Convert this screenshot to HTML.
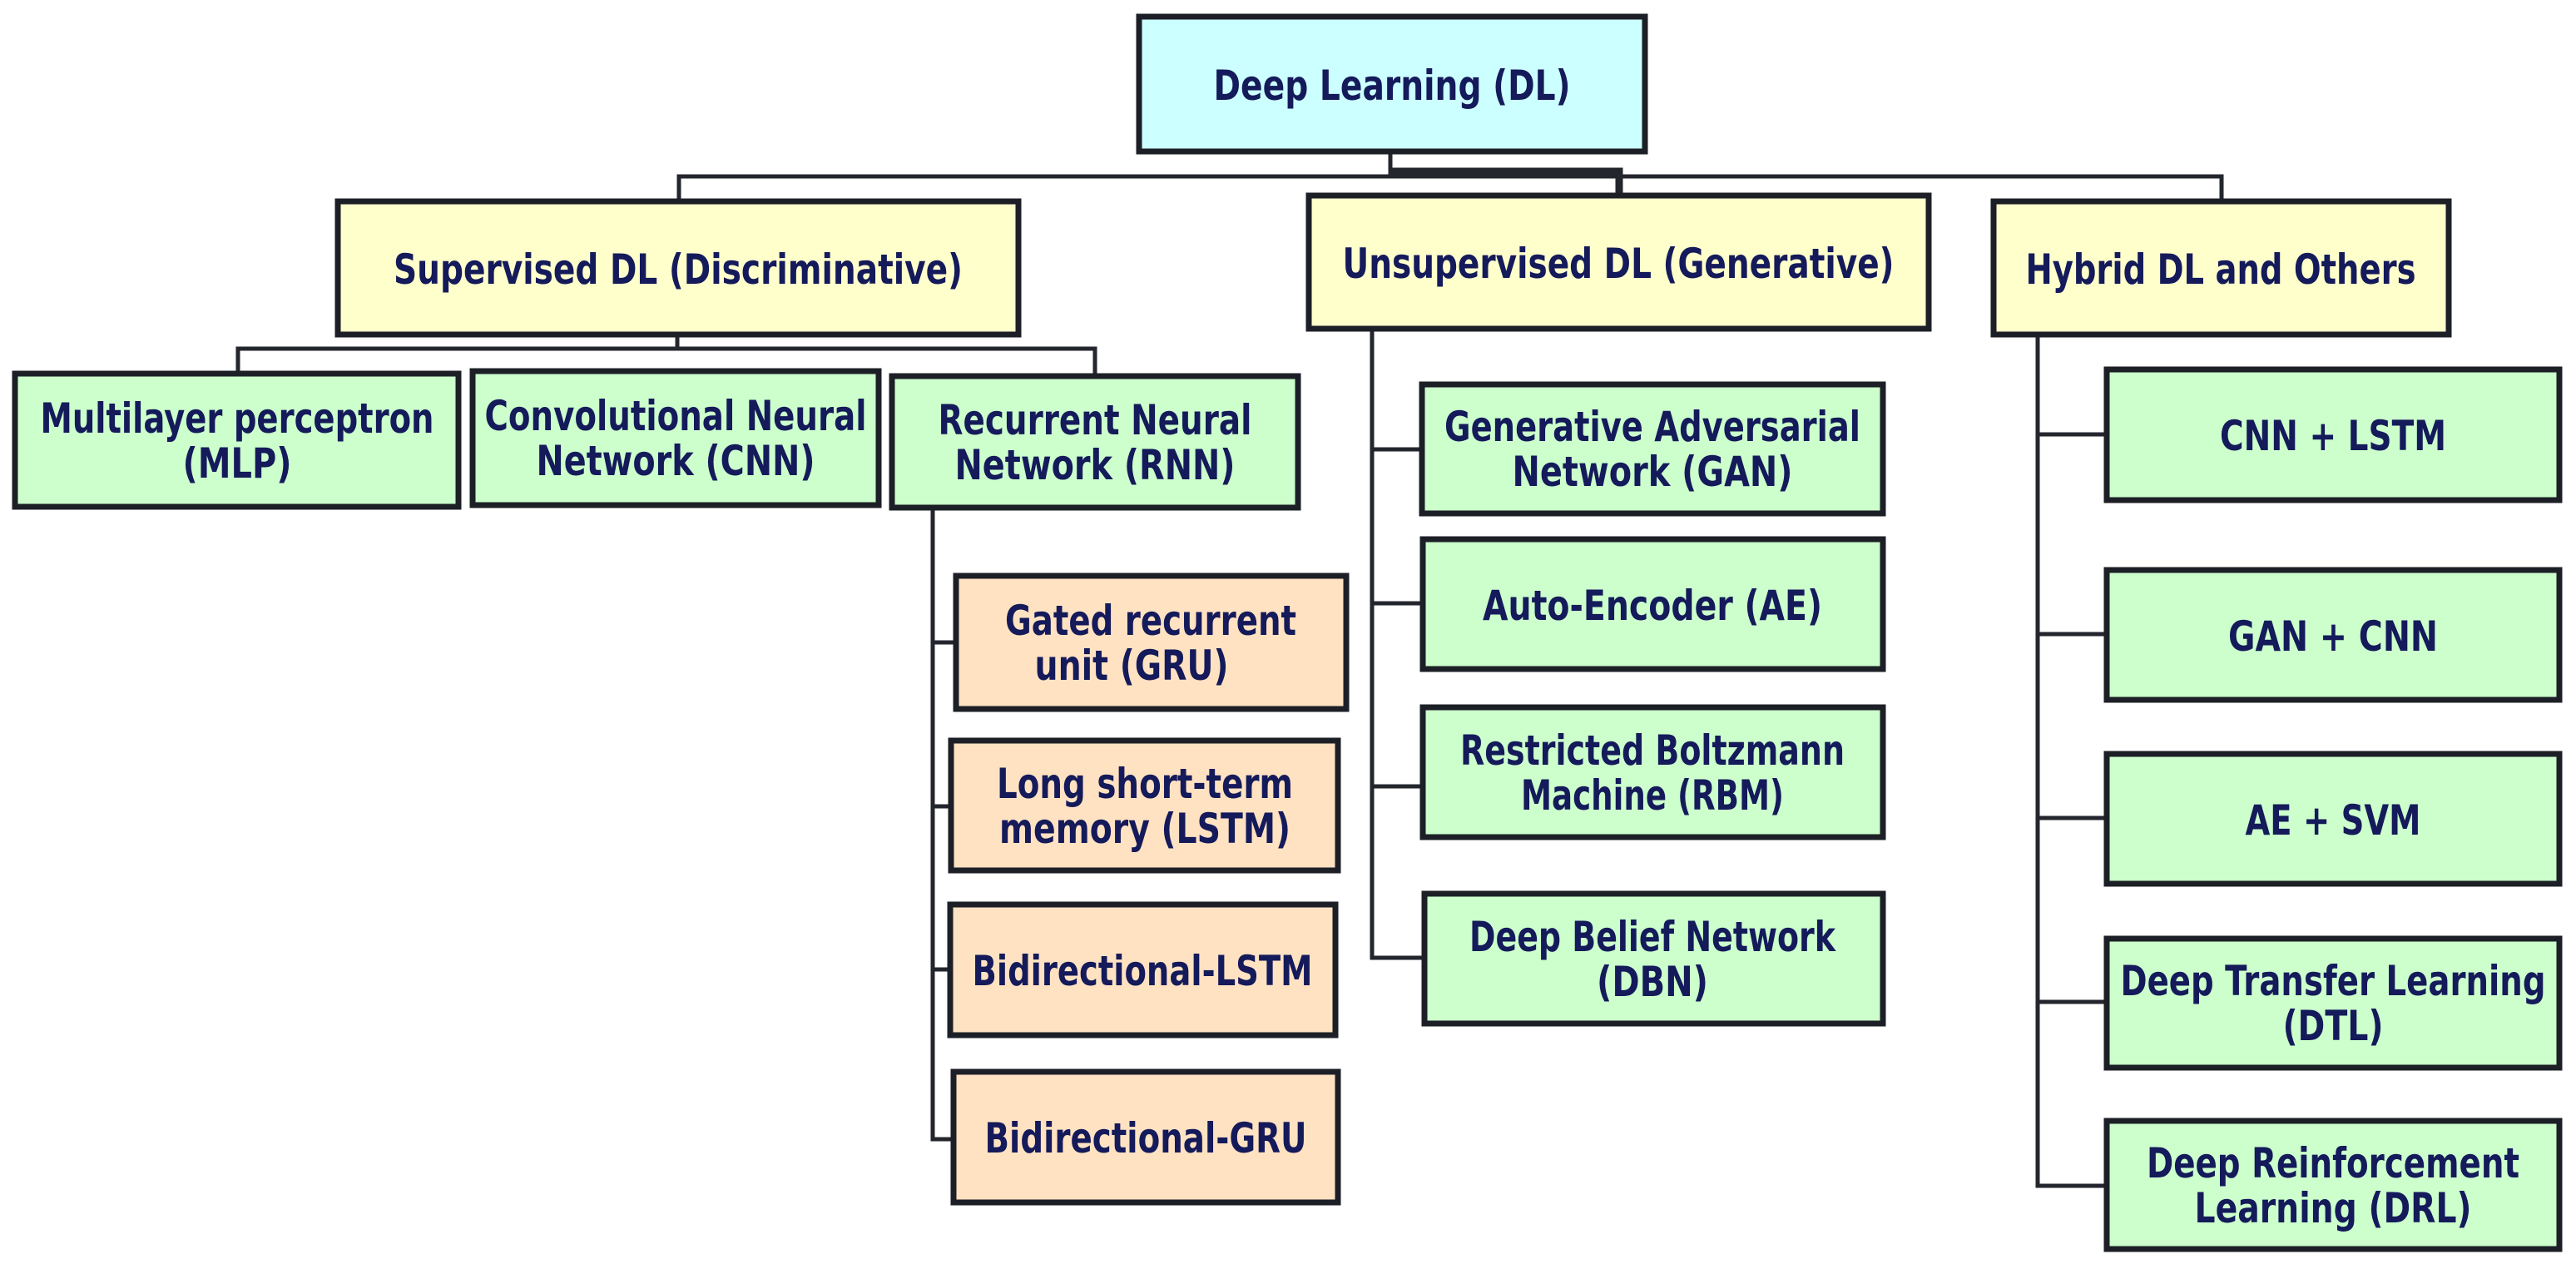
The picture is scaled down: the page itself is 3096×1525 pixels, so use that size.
<!DOCTYPE html>
<html><head><meta charset="utf-8"><style>
html,body{margin:0;padding:0;background:#fff;}
svg{display:block;}
text{font-family:"DejaVu Sans","Liberation Sans",sans-serif;font-weight:bold;font-size:50px;fill:#141a5a;text-anchor:middle;}
.b{stroke:#1c1f26;stroke-width:7;}
.l{stroke:#23262d;stroke-width:5;fill:none;}
</style></head><body>
<svg width="3096" height="1525" viewBox="0 0 3096 1525" xmlns="http://www.w3.org/2000/svg">
<!-- connectors -->
<g class="l">
<path d="M1671 182 V212"/>
<path d="M816 242 V212 H2670 V242"/>
<path d="M1671 206 H1946 V235" style="stroke-width:9"/>
<path d="M814 402 V419 M286 449 V419 H1316 V450"/>
<path d="M1121 610 V1369 H1146 M1121 772 H1149 M1121 969 H1143 M1121 1165 H1142"/>
<path d="M1649 395 V1151 H1712 M1649 540 H1709 M1649 725 H1710 M1649 945 H1710"/>
<path d="M2449 402 V1425 H2532 M2449 522 H2532 M2449 762 H2532 M2449 983 H2532 M2449 1204 H2532"/>
</g>
<!-- boxes -->
<rect class="b" x="1369" y="20" width="608" height="162" fill="#ccffff"/>
<rect class="b" x="406" y="242" width="818" height="160" fill="#ffffcc"/>
<rect class="b" x="1573" y="235" width="745" height="160" fill="#ffffcc"/>
<rect class="b" x="2396" y="242" width="547" height="160" fill="#ffffcc"/>
<rect class="b" x="18" y="449" width="533" height="160" fill="#ccffcc"/>
<rect class="b" x="568" y="446" width="488" height="161" fill="#ccffcc"/>
<rect class="b" x="1072" y="452" width="488" height="158" fill="#ccffcc"/>
<rect class="b" x="1149" y="692" width="469" height="160" fill="#ffe2c2"/>
<rect class="b" x="1143" y="890" width="465" height="156" fill="#ffe2c2"/>
<rect class="b" x="1142" y="1087" width="463" height="157" fill="#ffe2c2"/>
<rect class="b" x="1146" y="1288" width="462" height="157" fill="#ffe2c2"/>
<rect class="b" x="1709" y="462" width="554" height="155" fill="#ccffcc"/>
<rect class="b" x="1710" y="648" width="553" height="156" fill="#ccffcc"/>
<rect class="b" x="1710" y="850" width="553" height="156" fill="#ccffcc"/>
<rect class="b" x="1712" y="1074" width="551" height="156" fill="#ccffcc"/>
<rect class="b" x="2532" y="444" width="544" height="157" fill="#ccffcc"/>
<rect class="b" x="2532" y="685" width="544" height="156" fill="#ccffcc"/>
<rect class="b" x="2532" y="906" width="544" height="156" fill="#ccffcc"/>
<rect class="b" x="2532" y="1128" width="544" height="155" fill="#ccffcc"/>
<rect class="b" x="2532" y="1347" width="544" height="154" fill="#ccffcc"/>
<!-- text -->
<g lengthAdjust="spacingAndGlyphs">
<text x="1673" y="120" textLength="429" lengthAdjust="spacingAndGlyphs">Deep Learning (DL)</text>
<text x="815" y="341" textLength="684" lengthAdjust="spacingAndGlyphs">Supervised DL (Discriminative)</text>
<text x="1945" y="334" textLength="663" lengthAdjust="spacingAndGlyphs">Unsupervised DL (Generative)</text>
<text x="2669" y="341" textLength="469" lengthAdjust="spacingAndGlyphs">Hybrid DL and Others</text>

<text x="285" y="520" textLength="473" lengthAdjust="spacingAndGlyphs">Multilayer perceptron</text>
<text x="285" y="574" textLength="131" lengthAdjust="spacingAndGlyphs">(MLP)</text>
<text x="812" y="517" textLength="459" lengthAdjust="spacingAndGlyphs">Convolutional Neural</text>
<text x="812" y="571" textLength="335" lengthAdjust="spacingAndGlyphs">Network (CNN)</text>
<text x="1316" y="522" textLength="377" lengthAdjust="spacingAndGlyphs">Recurrent Neural</text>
<text x="1316" y="576" textLength="337" lengthAdjust="spacingAndGlyphs">Network (RNN)</text>

<text x="1383" y="763" textLength="350" lengthAdjust="spacingAndGlyphs">Gated recurrent</text>
<text x="1360" y="817" textLength="233" lengthAdjust="spacingAndGlyphs">unit (GRU)</text>
<text x="1376" y="959" textLength="356" lengthAdjust="spacingAndGlyphs">Long short-term</text>
<text x="1376" y="1013" textLength="350" lengthAdjust="spacingAndGlyphs">memory (LSTM)</text>
<text x="1373" y="1184" textLength="409" lengthAdjust="spacingAndGlyphs">Bidirectional-LSTM</text>
<text x="1377" y="1385" textLength="387" lengthAdjust="spacingAndGlyphs">Bidirectional-GRU</text>

<text x="1986" y="530" textLength="500" lengthAdjust="spacingAndGlyphs">Generative Adversarial</text>
<text x="1986" y="584" textLength="337" lengthAdjust="spacingAndGlyphs">Network (GAN)</text>
<text x="1986" y="745" textLength="408" lengthAdjust="spacingAndGlyphs">Auto-Encoder (AE)</text>
<text x="1986" y="919" textLength="462" lengthAdjust="spacingAndGlyphs">Restricted Boltzmann</text>
<text x="1986" y="973" textLength="316" lengthAdjust="spacingAndGlyphs">Machine (RBM)</text>
<text x="1986" y="1143" textLength="440" lengthAdjust="spacingAndGlyphs">Deep Belief Network</text>
<text x="1986" y="1197" textLength="134" lengthAdjust="spacingAndGlyphs">(DBN)</text>

<text x="2804" y="541" textLength="272" lengthAdjust="spacingAndGlyphs">CNN + LSTM</text>
<text x="2804" y="782" textLength="252" lengthAdjust="spacingAndGlyphs">GAN + CNN</text>
<text x="2804" y="1003" textLength="211" lengthAdjust="spacingAndGlyphs">AE + SVM</text>
<text x="2804" y="1196" textLength="511" lengthAdjust="spacingAndGlyphs">Deep Transfer Learning</text>
<text x="2804" y="1250" textLength="121" lengthAdjust="spacingAndGlyphs">(DTL)</text>
<text x="2804" y="1415" textLength="448" lengthAdjust="spacingAndGlyphs">Deep Reinforcement</text>
<text x="2804" y="1469" textLength="333" lengthAdjust="spacingAndGlyphs">Learning (DRL)</text>
</g>
</svg>
</body></html>
